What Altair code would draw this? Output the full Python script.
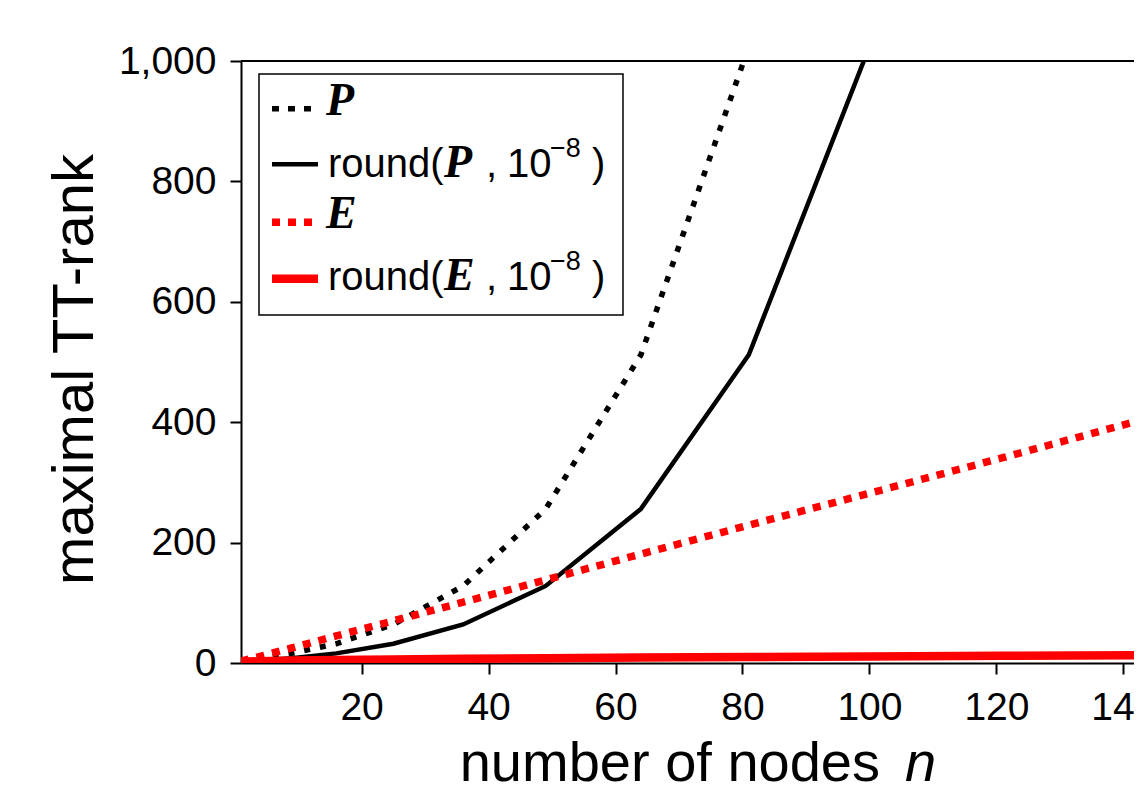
import altair as alt
import pandas as pd

# ---- data ----
nodes = [1, 4, 9, 16, 25, 36, 49, 64, 81, 100, 121, 144]
rank_P = [4, 8, 16, 32, 64, 128, 256, 512, 1024, 2048, 4096, 8192]
rank_P_round = [2, 4, 8, 16, 32, 64, 128, 256, 512, 1024, 2048, 4096]
rank_E = [3, 11, 25, 45, 70, 101, 138, 181, 229, 282, 341, 407]
rank_E_round = [2, 3, 4, 5, 6, 7, 8, 9, 10, 11, 12, 13]

series_names = ["P", "round(P, 1e-8)", "E", "round(E, 1e-8)"]
series_values = [rank_P, rank_P_round, rank_E, rank_E_round]

x_ticks = [20, 40, 60, 80, 100, 120, 140]
y_ticks = [0, 200, 400, 600, 800, 1000]

rows = []
for name, vals in zip(series_names, series_values):
    for n, v in zip(nodes, vals):
        rows.append({"series": name, "n": n, "rank": v})
df = pd.DataFrame(rows)
one = pd.DataFrame({"k": [0]})

SANS = "Liberation Sans"
SERIF = "Liberation Serif"
PX_PER_UNIT = 6.348
W, H = 893, 602
XMAX = 1 + W / PX_PER_UNIT

xscale = alt.Scale(domain=[1, XMAX], nice=False, zero=False)
yscale = alt.Scale(domain=[0, 1000], nice=False)

xaxis = alt.Axis(values=x_ticks, title=None, labelFont=SANS, labelFontSize=39,
                 labelColor="black", labelPadding=14, labelFlush=False,
                 tickSize=11, tickWidth=2, tickColor="black",
                 domainColor="black", domainWidth=2, grid=False, labelOverlap=False)
yaxis = alt.Axis(values=y_ticks, format=",d", title="maximal TT-rank",
                 labelFont=SANS, labelFontSize=39, labelColor="black",
                 labelPadding=14, labelFlush=False,
                 tickSize=11, tickWidth=2, tickColor="black",
                 domainColor="black", domainWidth=2, grid=False,
                 titleFont=SANS, titleFontSize=58, titleFontWeight="normal",
                 titleColor="black", titleAngle=270, titleX=-149, titleY=308,
                 titleAlign="center", titleBaseline="alphabetic")

base = alt.Chart(df)

def series_line(name, color, width, dash=None):
    kw = dict(color=color, strokeWidth=width, clip=True, strokeCap="butt")
    if dash:
        kw["strokeDash"] = dash
    return base.transform_filter(alt.datum.series == name).mark_line(**kw).encode(
        x=alt.X("n:Q", scale=xscale, axis=xaxis),
        y=alt.Y("rank:Q", scale=yscale, axis=yaxis),
        order="n:Q",
    )

lines = [
    series_line("P", "black", 5.5, [6, 10]),
    series_line("round(P, 1e-8)", "black", 4.5),
    series_line("E", "#ff0000", 7.5, [8, 8]),
    series_line("round(E, 1e-8)", "#ff0000", 8.5),
]

# top frame line
top_frame = alt.Chart(one).mark_rule(color="black", strokeWidth=2).encode(
    x=alt.value(0), x2=alt.value(W), y=alt.value(0))

def txt(s, x, y, size=40, font=SANS, style="normal", weight="normal", align="left"):
    return alt.Chart(one).mark_text(
        text=s, font=font, fontSize=size, fontStyle=style, fontWeight=weight,
        align=align, baseline="alphabetic", color="black").encode(
        x=alt.value(x), y=alt.value(y))

# x axis title (upright text + italic n)
xtitle = [
    txt("number of nodes", 639, 720, size=56, align="right"),
    txt("n", 664, 720, size=56, style="italic"),
]

# legend
legend_box = alt.Chart(one).mark_rect(fill="white", stroke="black", strokeWidth=1.5).encode(
    x=alt.value(18), x2=alt.value(382), y=alt.value(13), y2=alt.value(254))

def sample(y, color, width, dash=None):
    kw = dict(color=color, strokeWidth=width, strokeCap="butt")
    if dash:
        kw["strokeDash"] = dash
    return alt.Chart(one).mark_rule(**kw).encode(
        x=alt.value(31), x2=alt.value(77), y=alt.value(y))

BI = dict(font=SERIF, style="italic", weight="bold", size=46)
legend = [
    legend_box,
    sample(47.8, "black", 5.5, [7, 9]),
    sample(103.3, "black", 4.5),
    sample(161.3, "#ff0000", 7.5, [8, 8]),
    sample(217.7, "#ff0000", 8.5),
    txt("P", 85, 54, **BI),
    txt("round(", 87, 116, size=40),
    txt("P", 203, 116, **BI),
    txt(",", 245, 116, size=40),
    txt("10", 266, 116, size=40),
    txt("\u22128", 309, 96, size=27),
    txt(")", 351, 116, size=40),
    txt("E", 85, 167, **BI),
    txt("round(", 87, 229, size=40),
    txt("E", 203, 229, **BI),
    txt(",", 245, 229, size=40),
    txt("10", 266, 229, size=40),
    txt("\u22128", 309, 209, size=27),
    txt(")", 351, 229, size=40),
]

chart = alt.layer(*lines, top_frame, *xtitle, *legend).properties(
    width=W, height=H,
    padding={"left": 233, "top": 53, "right": 0, "bottom": 120},
    autosize=alt.AutoSizeParams(type="none"),
    background="white",
).configure_view(stroke=None)

chart.save("out.html", embed_options={"renderer": "svg", "actions": False})
